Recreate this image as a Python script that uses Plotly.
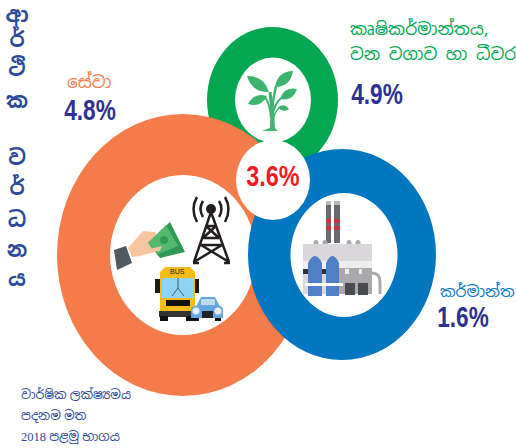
import plotly.graph_objects as go

# ---- data ----
sector_names = ["සේවා", "කෘෂිකර්මාන්තය,", "වන වගාව හා ධීවර", "කර්මාන්ත"]
sector_growth = [4.8, 4.9, 1.6]
total_growth = 3.6
title_letters = ["ආ", "ර්", "ථි", "ක", "ව", "ර්", "ධ", "න", "ය"]
note_lines = ["වාර්ෂික ලක්ෂ්‍යමය", "පදනම මත", "2018 පළමු භාගය"]

ORANGE, GREEN, BLUE = "#f47b4a", "#03a651", "#0277bf"
NAVY, TITLE_BLUE, RED = "#2e3192", "#2b4a9b", "#ed1c24"
SINHALA = "Noto Sans Sinhala, Noto Serif Sinhala, Noto Sans, DejaVu Sans, sans-serif"
NOTE_FONT = "Liberation Serif, Noto Sans Sinhala, Noto Sans, serif"
NUMBER = "Liberation Sans, sans-serif"

shapes = []


def ellipse(cx, cy, rx, ry, color):
    shapes.append(dict(type="circle", xref="x", yref="y", x0=cx - rx, x1=cx + rx, y0=cy - ry, y1=cy + ry,
                       fillcolor=color, line_width=0, layer="below"))


def rect(x0, y0, x1, y1, color):
    shapes.append(dict(type="rect", xref="x", yref="y", x0=x0, x1=x1, y0=y0, y1=y1,
                       fillcolor=color, line_width=0, layer="below"))


def poly(points, color):
    d = "M" + " L".join(f"{x},{y}" for x, y in points) + " Z"
    shapes.append(dict(type="path", xref="x", yref="y", path=d, fillcolor=color, line_width=0, layer="below"))


def stroke(d, color, width):
    shapes.append(dict(type="path", xref="x", yref="y", path=d, line=dict(color=color, width=width), layer="below"))


def leaf(x0, y0, x1, y1, bend, color):
    """A pointed leaf from base (x0,y0) to tip (x1,y1)."""
    mx, my = (x0 + x1) / 2, (y0 + y1) / 2
    nx, ny = -(y1 - y0), x1 - x0
    shapes.append(dict(type="path", xref="x", yref="y",
                       path=f"M{x0},{y0} Q{mx + nx * bend},{my + ny * bend} {x1},{y1} "
                            f"Q{mx - nx * bend},{my - ny * bend} {x0},{y0} Z",
                       fillcolor=color, line_width=0, layer="below"))


# rings
ellipse(272.5, 100, 65.5, 73, GREEN)
ellipse(273, 100, 38, 42.5, "white")
ellipse(183, 255, 126, 141, ORANGE)
ellipse(183, 255, 73, 80, "white")
ellipse(342, 254.5, 94, 105.5, BLUE)
ellipse(344, 255, 53.5, 62, "white")
ellipse(273, 180, 37, 40, "white")

# plant
LEAF = "#3cb46e"
stroke("M272,130 L272,112 Q271,100 270,92", LEAF, 3)
stroke("M272,112 Q273,98 276,86", LEAF, 2.5)
stroke("M272,118 Q274,104 281,98", LEAF, 2)
stroke("M271,118 Q270,104 265,97", LEAF, 2)
stroke("M272,124 Q274,112 279,108", LEAF, 1.5)
poly([(262, 131), (270, 128), (271, 112), (274, 112), (275, 128), (278, 131)], LEAF)
leaf(269, 92, 247, 76, 0.38, LEAF)
leaf(275, 87, 293, 71, 0.42, LEAF)
leaf(280, 99, 297, 89, 0.45, LEAF)
leaf(267, 96, 248, 104, 0.42, LEAF)
leaf(278, 107, 289, 109, 0.5, LEAF)

# hand with money
poly([(114, 250), (126, 246), (132, 263), (117, 270)], "#4f5a63")
poly([(128, 248), (143, 231), (155, 232), (160, 246), (158, 251), (140, 256), (132, 257)], "#f6c5a0")
poly([(148, 243), (170, 222), (185, 252), (160, 258)], "#2f9a55")
poly([(148, 243), (166, 225), (178, 246), (158, 254)], "#54b96f")
ellipse(164, 240, 4, 4, "#2f9a55")
poly([(150, 249), (162, 246), (160, 251), (151, 252)], "#f6c5a0")

# tower
TW = "#231f20"
stroke("M211,212 L194,262 M211,212 L229,262 M194,262 L222,245 M229,262 L201,245 M201,245 L222,245 "
       "M203,238 L219,238 M203,238 L216,226 M219,238 L206,226 M206,226 L216,226 M193,263 L199,263 M224,263 L230,263",
       TW, 2.5)
ellipse(211, 209, 5, 5, TW)
stroke("M203,201 Q198,209 203,217 M219,201 Q224,209 219,217", TW, 2.5)
stroke("M197,197 Q190,209 197,222 M225,197 Q232,209 225,222", TW, 2.5)

# bus
rect(155, 279, 160, 293, "#1a1a1a")
rect(195, 279, 199, 293, "#1a1a1a")
poly([(160, 272), (165, 267), (190, 267), (195, 272), (195, 313), (160, 313)], "#f9bb16")
rect(162, 278, 194, 298, "#8fd2f3")
rect(166, 300, 190, 306, "#111111")
rect(159, 311, 196, 317, "#333333")
rect(160, 316, 168, 321, "#111111")
rect(186, 316, 195, 321, "#111111")
stroke("M178,278 L178,288 L172,296 M178,288 L184,296", "#3b5a78", 1)
bus_label = dict(x=177, y=271.5, text="BUS", font=dict(size=7, color="#222222", family="Liberation Sans"))

# car
poly([(197, 305), (201, 297), (215, 297), (219, 305), (223, 308), (223, 318), (191, 318), (191, 308)], "#66a5de")
rect(201, 299, 215, 305, "#bcdcf2")
rect(202, 311, 213, 318, "#222222")
ellipse(196, 311, 3.5, 3.5, "#e8eef3")
ellipse(218, 311, 3.5, 3.5, "#e8eef3")
rect(193, 318, 199, 321, "#111111")
rect(215, 318, 221, 321, "#111111")

# factory
rect(326, 201, 331, 243, "#6a6a6e")
rect(334, 201, 340, 243, "#6a6a6e")
rect(326, 201, 331, 205, "#b9b9bc")
rect(334, 201, 340, 205, "#b9b9bc")
for y0, y1 in [(219, 223), (226, 230)]:
    rect(326, y0, 331, y1, "#c8343f")
    rect(334, y0, 340, y1, "#c8343f")
for cx in [316, 325, 349, 358]:
    ellipse(cx, 243, 2.5, 3, "#a9a9ad")
rect(303, 244, 372, 294, "#d9d7d9")
rect(303, 261, 372, 269, "#eeeeee")
rect(303, 269, 372, 274, "#2f3133")
poly([(339, 268), (372, 268), (372, 294), (330, 294)], "#a9a8ab")
rect(345, 269, 349, 274, "#eeeeee")
rect(359, 269, 362, 274, "#eeeeee")
rect(345, 283, 355, 295, "#4a4b4e")
rect(358, 283, 368, 295, "#4a4b4e")
stroke("M372,273 Q380,273 380,282 L380,294", "#a9a8ab", 3)
for x0, x1 in [(308, 322), (326, 339)]:
    shapes.append(dict(type="path", xref="x", yref="y",
                       path=f"M{x0},296 L{x0},263 Q{(x0 + x1) / 2},249 {x1},263 L{x1},296 Z",
                       fillcolor="#4f7fc7", line_width=0, layer="below"))
rect(305, 283, 343, 286, "#ffffff")

fig = go.Figure()

title_y = [17, 42, 71, 103, 160, 190, 222, 252, 281]
fig.add_trace(go.Scatter(x=[17] * len(title_letters), y=title_y, mode="text", text=title_letters,
                         textfont=dict(family=SINHALA, size=21, color=TITLE_BLUE, weight="bold"),
                         textposition="middle center", hoverinfo="skip"))

fig.add_trace(go.Scatter(x=[90, 377, 463], y=[113, 97, 320], mode="text",
                         text=[f"{v:.1f}%" for v in sector_growth],
                         textfont=dict(family=NUMBER, size=29, color=NAVY, weight="bold"),
                         textposition="middle center", hoverinfo="skip"))

fig.add_trace(go.Scatter(x=[273], y=[179], mode="text", text=[f"{total_growth:.1f}%"],
                         textfont=dict(family=NUMBER, size=30, color=RED, weight="bold"),
                         textposition="middle center", hoverinfo="skip"))

annotations = [
    dict(x=65, y=82, text=sector_names[0], font=dict(family=SINHALA, size=17, color=ORANGE), xanchor="left"),
    dict(x=348, y=29, text=sector_names[1], font=dict(family=SINHALA, size=17, color=GREEN), xanchor="left"),
    dict(x=348, y=54, text=sector_names[2], font=dict(family=SINHALA, size=17, color=GREEN), xanchor="left"),
    dict(x=438, y=291, text=sector_names[3], font=dict(family=SINHALA, size=15.5, color=BLUE), xanchor="left"),
    dict(x=19, y=394, text=note_lines[0], font=dict(family=NOTE_FONT, size=12.5, color=TITLE_BLUE), xanchor="left"),
    dict(x=19, y=416, text=note_lines[1], font=dict(family=NOTE_FONT, size=12.5, color=TITLE_BLUE), xanchor="left"),
    dict(x=19, y=437, text=note_lines[2], font=dict(family=NOTE_FONT, size=12.5, color=TITLE_BLUE), xanchor="left"),
    bus_label,
]
for a in annotations:
    a.update(showarrow=False, xref="x", yref="y")

fig.update_layout(
    width=516, height=448, autosize=False, showlegend=False,
    margin=dict(l=0, r=0, t=0, b=0), paper_bgcolor="white", plot_bgcolor="white",
    xaxis=dict(range=[0, 516], visible=False, fixedrange=True),
    yaxis=dict(range=[448, 0], visible=False, fixedrange=True),
    shapes=shapes, annotations=annotations,
)
condense = """
document.body.style.margin='0';
document.querySelectorAll('.textpoint text').forEach(function (t) {
  if (t.textContent.indexOf('%') >= 0) {
    t.style.transformBox = 'fill-box';
    t.style.transformOrigin = 'center';
    t.style.transform = 'scaleX(0.78)';
  }
});
"""
fig.write_html("out.html", post_script=condense, config=dict(displayModeBar=False))
